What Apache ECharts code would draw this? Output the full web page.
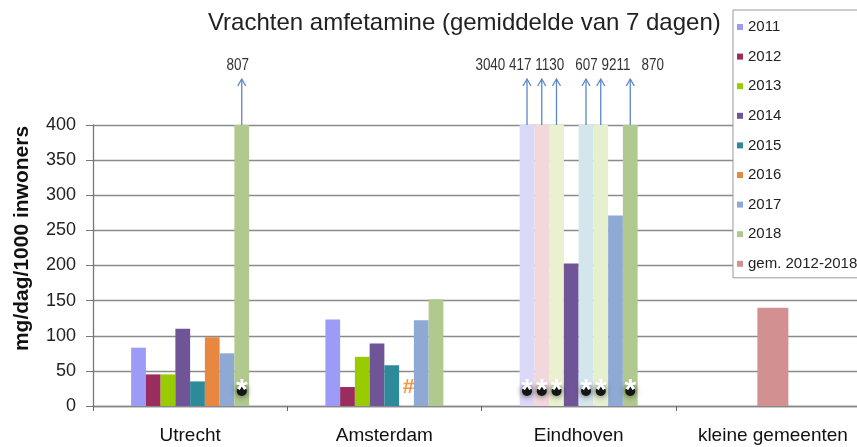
<!DOCTYPE html>
<html>
<head>
<meta charset="utf-8">
<script src="https://cdn.jsdelivr.net/npm/echarts@6/dist/echarts.min.js"></script>
<style>
html,body{margin:0;padding:0;background:#fff;}
#chart{width:857px;height:447px;}
</style>
</head>
<body>
<div id="chart"></div>
<script>
// ---- data ----
const categories = ['Utrecht', 'Amsterdam', 'Eindhoven', 'kleine gemeenten'];
const years = ['2011', '2012', '2013', '2014', '2015', '2016', '2017', '2018'];
const gemName = 'gem. 2012-2018';
const v2011 = [83, 123, 3040, null];
const v2012 = [45, 27, 417, null];
const v2013 = [45, 70, 1130, null];
const v2014 = [110, 89, 203, null];
const v2015 = [35, 58, 607, null];
const v2016 = [98, null, 9211, null];
const v2017 = [75, 122, 271, null];
const v2018 = [807, 152, 870, null];
const gemValues = [null, null, null, 140];
const yTicks = { min: 0, max: 400, interval: 50 };
// uncertain (faded) bars: [categoryIndex, yearIndex]
const uncertain = [[2, 0], [2, 1], [2, 2], [2, 4], [2, 5]];
// missing measurement ('#'): [categoryIndex, yearIndex]
const missing = [[1, 5]];

// ---- styles ----
const colors = ['#9c9cf8', '#9b2d5e', '#99cc00', '#6f5598', '#2c8a9a', '#e8873f', '#8eaad4', '#b0c98e'];
const fadedColors = ['#dcd8f8', '#f2d8dc', '#e9f1ce', '#e0d8ea', '#d3e6ec', '#e6f0cf', '#dde6f2', '#e8efdc'];
const gemColor = '#d39091';
const BAR_W = 14.75;

const seriesVals = [v2011, v2012, v2013, v2014, v2015, v2016, v2017, v2018];
const isIn = (list, c, y) => list.some(p => p[0] === c && p[1] === y);

const chart = echarts.init(document.getElementById('chart'), null, { renderer: 'canvas' });

const barSeries = years.map((yr, i) => ({
  name: yr,
  type: 'bar',
  xAxisIndex: 0,
  barWidth: BAR_W,
  barGap: '0%',
  silent: true,
  itemStyle: { color: colors[i] },
  data: seriesVals[i].map((v, c) => {
    if (v == null) return '-';
    if (isIn(uncertain, c, i)) return { value: v, itemStyle: { color: fadedColors[i] } };
    return v;
  })
}));

const annot = {
  type: 'custom',
  name: 'annot',
  xAxisIndex: 0,
  yAxisIndex: 0,
  z: 10,
  silent: true,
  clip: false,
  data: categories.map((_, i) => [i]),
  renderItem: function (params, api) {
    const c = api.value(0);
    const base = api.coord([c, 0]);
    const top = api.coord([c, yTicks.max]);
    const cx = base[0];
    const children = [];
    const xs = [];
    let text = '';
    let prev = -2;
    for (let y = 0; y < years.length; y++) {
      const v = seriesVals[y][c];
      const bx = cx + (y - 3.5) * BAR_W;
      if (v != null && v > yTicks.max) {
        const ty = top[1] - 46;
        children.push({
          type: 'polyline',
          shape: { points: [[bx, top[1]], [bx, ty]] },
          style: { stroke: '#5b87c6', lineWidth: 1.3, fill: null }
        });
        children.push({
          type: 'polyline',
          shape: { points: [[bx - 4, ty + 7], [bx, ty], [bx + 4, ty + 7]] },
          style: { stroke: '#5b87c6', lineWidth: 1.3, fill: null }
        });
        children.push({
          type: 'circle',
          shape: { cx: bx, cy: base[1] - 15, r: 5 },
          style: { fill: '#151515', shadowBlur: 6, shadowColor: 'rgba(0,0,0,0.75)' }
        });
        children.push({
          type: 'text',
          style: {
            text: '*', x: bx, y: base[1] - 15, align: 'center', verticalAlign: 'middle',
            fill: '#ffffff', font: 'bold 30px "Liberation Sans", Arial, sans-serif'
          }
        });
        xs.push(bx);
        text += text ? ((y - prev > 1) ? '   ' : ' ') + v : String(v);
        prev = y;
      }
      if (isIn(missing, c, y)) {
        children.push({
          type: 'text',
          style: {
            text: '#', x: bx + 2, y: base[1] - 19, align: 'center', verticalAlign: 'middle',
            fill: '#f79646', font: 'bold 21px "Liberation Sans", Arial, sans-serif'
          }
        });
      }
    }
    if (text) {
      const mx = xs.reduce((a, b) => a + b, 0) / xs.length;
      children.push({
        type: 'text',
        x: mx - 4,
        y: top[1] - 59,
        scaleX: 0.84,
        style: {
          text: text, x: 0, y: 0, align: 'center', verticalAlign: 'middle',
          fill: '#333', font: '16px "Liberation Sans", Arial, sans-serif'
        }
      });
    }
    return { type: 'group', children: children };
  }
};

const option = {
  animation: false,
  backgroundColor: '#ffffff',
  title: {
    text: 'Vrachten amfetamine (gemiddelde van 7 dagen)',
    left: 203,
    top: 6,
    textStyle: {
      fontFamily: '"Liberation Sans", Arial, sans-serif',
      fontSize: 24, fontWeight: 'normal', color: '#222'
    }
  },
  legend: {
    orient: 'vertical',
    left: 733,
    top: 10,
    padding: [9, 8, 6, 4],
    itemWidth: 6,
    itemHeight: 6,
    itemGap: 13.6,
    icon: 'rect',
    backgroundColor: '#fff',
    borderColor: '#999',
    borderWidth: 1,
    textStyle: { fontFamily: '"Liberation Sans", Arial, sans-serif', fontSize: 15, color: '#222', lineHeight: 16 },
    data: years.concat([gemName])
  },
  grid: { left: 93, width: 777, top: 125, height: 281, outerBoundsMode: 'none', containLabel: false },
  xAxis: [
    {
      type: 'category',
      data: categories,
      axisLine: { lineStyle: { color: '#888', width: 1.3 } },
      axisTick: { show: true, length: 5, lineStyle: { color: '#666' } },
      axisLabel: { interval: 0, margin: 20, fontSize: 19, color: '#111', fontFamily: '"Liberation Sans", Arial, sans-serif' }
    },
    {
      type: 'category',
      data: categories,
      show: false
    }
  ],
  yAxis: {
    type: 'value',
    min: yTicks.min,
    max: yTicks.max,
    interval: yTicks.interval,
    name: 'mg/dag/1000 inwoners',
    nameLocation: 'middle',
    nameGap: 60,
    nameTextStyle: {
      fontFamily: '"Liberation Sans", Arial, sans-serif', fontSize: 21, fontWeight: 'bold', color: '#111',
      padding: [0, 0, 0, 54]
    },
    axisLine: { show: true, lineStyle: { color: '#777', width: 1.3 } },
    axisTick: { show: true, length: 7, lineStyle: { color: '#777' } },
    axisLabel: { margin: 17, fontSize: 18, color: '#222', fontFamily: '"Liberation Sans", Arial, sans-serif' },
    splitLine: { lineStyle: { color: '#8a8a8a', width: 1.3 } }
  },
  series: barSeries.concat([
    {
      name: gemName,
      type: 'bar',
      xAxisIndex: 1,
      barWidth: 31,
      silent: true,
      itemStyle: { color: gemColor },
      data: gemValues.map(v => v == null ? '-' : v)
    },
    annot
  ])
};

chart.setOption(option);
</script>
</body>
</html>
